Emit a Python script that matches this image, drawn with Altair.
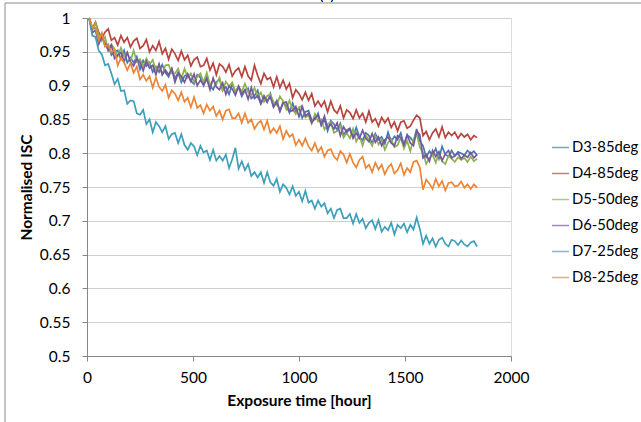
import altair as alt
import pandas as pd

hours = list(range(10, 1841, 15))

d3 = [1.000, 0.984, 0.985, 0.966, 0.976, 0.958, 0.961, 0.945, 0.950, 0.952,
      0.939, 0.952, 0.934, 0.941, 0.934, 0.943, 0.924, 0.937, 0.929, 0.934,
      0.920, 0.928, 0.920, 0.931, 0.919, 0.913, 0.925, 0.911, 0.919, 0.905,
      0.914, 0.917, 0.907, 0.902, 0.916, 0.912, 0.900, 0.914, 0.900, 0.894,
      0.905, 0.910, 0.893, 0.898, 0.887, 0.902, 0.891, 0.898, 0.884, 0.893,
      0.896, 0.881, 0.885, 0.893, 0.874, 0.882, 0.875, 0.888, 0.869, 0.878,
      0.862, 0.876, 0.870, 0.860, 0.874, 0.861, 0.867, 0.852, 0.861, 0.863,
      0.849, 0.850, 0.859, 0.841, 0.850, 0.833, 0.848, 0.843, 0.834, 0.844,
      0.827, 0.834, 0.837, 0.824, 0.838, 0.824, 0.819, 0.830, 0.826, 0.814,
      0.829, 0.820, 0.824, 0.814, 0.831, 0.817, 0.825, 0.820, 0.830, 0.812,
      0.827, 0.823, 0.817, 0.836, 0.818, 0.811, 0.794, 0.803, 0.797, 0.807,
      0.792, 0.810, 0.798, 0.795, 0.804, 0.796, 0.802, 0.800, 0.797, 0.804,
      0.799, 0.803, 0.797]

d4 = [1.000, 0.984, 0.994, 0.979, 0.970, 0.979, 0.984, 0.967, 0.971, 0.960,
      0.974, 0.964, 0.971, 0.957, 0.966, 0.970, 0.955, 0.959, 0.968, 0.950,
      0.959, 0.952, 0.965, 0.947, 0.955, 0.939, 0.954, 0.947, 0.937, 0.951,
      0.938, 0.945, 0.929, 0.938, 0.942, 0.928, 0.930, 0.940, 0.923, 0.933,
      0.916, 0.932, 0.928, 0.920, 0.931, 0.914, 0.922, 0.926, 0.913, 0.928,
      0.914, 0.908, 0.930, 0.915, 0.903, 0.918, 0.909, 0.912, 0.898, 0.913,
      0.897, 0.908, 0.895, 0.903, 0.882, 0.894, 0.888, 0.879, 0.890, 0.878,
      0.888, 0.870, 0.877, 0.869, 0.877, 0.861, 0.877, 0.864, 0.859, 0.870,
      0.852, 0.864, 0.860, 0.851, 0.864, 0.852, 0.859, 0.846, 0.862, 0.846,
      0.851, 0.840, 0.853, 0.845, 0.852, 0.838, 0.846, 0.833, 0.846, 0.848,
      0.837, 0.840, 0.849, 0.856, 0.852, 0.826, 0.832, 0.820, 0.830, 0.836,
      0.824, 0.839, 0.823, 0.831, 0.826, 0.831, 0.822, 0.829, 0.824, 0.828,
      0.820, 0.826, 0.823]

d5 = [1.000, 0.982, 0.993, 0.975, 0.966, 0.972, 0.952, 0.961, 0.954, 0.943,
      0.956, 0.943, 0.949, 0.936, 0.952, 0.935, 0.939, 0.928, 0.940, 0.931,
      0.938, 0.923, 0.931, 0.917, 0.930, 0.931, 0.918, 0.918, 0.925, 0.910,
      0.925, 0.912, 0.918, 0.905, 0.913, 0.918, 0.905, 0.919, 0.901, 0.908,
      0.902, 0.912, 0.893, 0.906, 0.899, 0.905, 0.890, 0.899, 0.891, 0.903,
      0.890, 0.885, 0.897, 0.883, 0.890, 0.876, 0.885, 0.887, 0.876, 0.871,
      0.884, 0.877, 0.865, 0.878, 0.865, 0.858, 0.868, 0.870, 0.853, 0.856,
      0.844, 0.858, 0.847, 0.850, 0.835, 0.843, 0.846, 0.830, 0.833, 0.841,
      0.823, 0.830, 0.822, 0.836, 0.817, 0.826, 0.811, 0.826, 0.820, 0.811,
      0.825, 0.813, 0.820, 0.805, 0.816, 0.821, 0.809, 0.812, 0.823, 0.807,
      0.818, 0.803, 0.821, 0.828, 0.809, 0.801, 0.784, 0.793, 0.798, 0.786,
      0.801, 0.788, 0.784, 0.796, 0.792, 0.787, 0.794, 0.790, 0.793, 0.787,
      0.795, 0.788, 0.792]

d6 = [1.000, 0.978, 0.982, 0.961, 0.972, 0.963, 0.952, 0.960, 0.940, 0.945,
      0.949, 0.935, 0.949, 0.935, 0.929, 0.939, 0.934, 0.922, 0.936, 0.926,
      0.930, 0.916, 0.932, 0.916, 0.923, 0.916, 0.925, 0.905, 0.919, 0.913,
      0.905, 0.917, 0.906, 0.917, 0.900, 0.908, 0.901, 0.910, 0.894, 0.911,
      0.898, 0.894, 0.904, 0.887, 0.899, 0.895, 0.886, 0.899, 0.887, 0.894,
      0.880, 0.897, 0.881, 0.885, 0.873, 0.885, 0.877, 0.883, 0.868, 0.876,
      0.862, 0.874, 0.876, 0.862, 0.863, 0.869, 0.854, 0.869, 0.855, 0.859,
      0.845, 0.852, 0.856, 0.842, 0.855, 0.837, 0.843, 0.836, 0.845, 0.826,
      0.839, 0.831, 0.836, 0.822, 0.830, 0.822, 0.834, 0.822, 0.817, 0.829,
      0.816, 0.824, 0.811, 0.820, 0.824, 0.815, 0.811, 0.826, 0.823, 0.812,
      0.827, 0.815, 0.811, 0.833, 0.827, 0.793, 0.798, 0.788, 0.804, 0.795,
      0.802, 0.789, 0.799, 0.804, 0.793, 0.796, 0.800, 0.792, 0.797, 0.794,
      0.801, 0.793, 0.798]

d7 = [1.000, 0.974, 0.972, 0.952, 0.946, 0.930, 0.932, 0.918, 0.902, 0.910,
      0.892, 0.893, 0.873, 0.878, 0.877, 0.859, 0.857, 0.864, 0.843, 0.850,
      0.831, 0.846, 0.840, 0.831, 0.840, 0.821, 0.828, 0.830, 0.815, 0.828,
      0.812, 0.805, 0.815, 0.810, 0.797, 0.811, 0.801, 0.804, 0.790, 0.805,
      0.789, 0.796, 0.789, 0.798, 0.778, 0.791, 0.808, 0.777, 0.788, 0.775,
      0.784, 0.766, 0.772, 0.764, 0.772, 0.756, 0.772, 0.757, 0.752, 0.762,
      0.743, 0.754, 0.749, 0.739, 0.751, 0.737, 0.743, 0.729, 0.744, 0.727,
      0.730, 0.718, 0.730, 0.721, 0.726, 0.711, 0.718, 0.704, 0.716, 0.718,
      0.704, 0.704, 0.710, 0.696, 0.710, 0.697, 0.703, 0.689, 0.697, 0.701,
      0.688, 0.701, 0.684, 0.691, 0.686, 0.697, 0.680, 0.694, 0.689, 0.696,
      0.683, 0.694, 0.687, 0.705, 0.688, 0.666, 0.678, 0.666, 0.674, 0.662,
      0.672, 0.675, 0.666, 0.662, 0.672, 0.670, 0.664, 0.671, 0.665, 0.662,
      0.668, 0.670, 0.662]

d8 = [1.000, 0.987, 0.985, 0.967, 0.978, 0.958, 0.960, 0.949, 0.953, 0.930,
      0.941, 0.934, 0.923, 0.933, 0.919, 0.928, 0.909, 0.916, 0.907, 0.914,
      0.897, 0.912, 0.898, 0.892, 0.901, 0.882, 0.893, 0.888, 0.878, 0.890,
      0.876, 0.882, 0.868, 0.883, 0.867, 0.871, 0.859, 0.872, 0.863, 0.869,
      0.855, 0.863, 0.850, 0.863, 0.865, 0.852, 0.852, 0.859, 0.845, 0.859,
      0.845, 0.850, 0.836, 0.844, 0.848, 0.835, 0.848, 0.830, 0.837, 0.830,
      0.840, 0.821, 0.833, 0.824, 0.828, 0.812, 0.820, 0.811, 0.822, 0.810,
      0.804, 0.815, 0.802, 0.809, 0.795, 0.804, 0.806, 0.795, 0.790, 0.803,
      0.798, 0.786, 0.799, 0.786, 0.779, 0.790, 0.795, 0.778, 0.783, 0.772,
      0.786, 0.776, 0.783, 0.769, 0.779, 0.784, 0.770, 0.775, 0.785, 0.768,
      0.778, 0.772, 0.787, 0.789, 0.779, 0.746, 0.761, 0.755, 0.747, 0.762,
      0.751, 0.759, 0.745, 0.756, 0.757, 0.751, 0.752, 0.758, 0.749, 0.754,
      0.747, 0.754, 0.749]

names = ["D3-85deg", "D4-85deg", "D5-50deg", "D6-50deg", "D7-25deg", "D8-25deg"]
colors = ["#4778B5", "#B8443F", "#8FB14F", "#76599C", "#3E9FBB", "#EC8535"]
x_ticks = [0, 500, 1000, 1500, 2000]
y_ticks = [0.5, 0.55, 0.6, 0.65, 0.7, 0.75, 0.8, 0.85, 0.9, 0.95, 1.0]

series = [d3, d4, d5, d6, d7, d8]
rows = []
for name, vals in zip(names, series):
    for t, v in zip(hours, vals):
        rows.append({"t": t, "v": v, "s": name})
df = pd.DataFrame(rows)

FONT = "Lato"
AXIS_GRAY = "#868686"

lines = alt.Chart(df).mark_line(strokeWidth=1.7).encode(
    x=alt.X("t:Q",
            scale=alt.Scale(domain=[0, 2000], nice=False, zero=False),
            axis=alt.Axis(values=x_ticks, format="d", title="Exposure time [hour]", grid=False,
                          domainColor=AXIS_GRAY, tickColor=AXIS_GRAY, tickSize=5,
                          labelFont=FONT, labelFontSize=15.5, labelColor="#000000",
                          labelPadding=9, titleFont=FONT, titleFontSize=15.5,
                          titleFontWeight="bold", titleColor="#000000", titlePadding=8,
                          labelFlush=False)),
    y=alt.Y("v:Q",
            scale=alt.Scale(domain=[0.5, 1.0], nice=False, zero=False),
            axis=alt.Axis(values=y_ticks, format=".2~f", title="Normalised ISC",
                          grid=True, gridColor="#CFCFCF", gridWidth=1,
                          domainColor=AXIS_GRAY, tickColor=AXIS_GRAY, tickSize=5,
                          labelFont=FONT, labelFontSize=15.5, labelColor="#000000",
                          labelPadding=12, titleFont=FONT, titleFontSize=15.5,
                          titleFontWeight="bold", titleColor="#000000", titlePadding=5,
                          labelFlush=False)),
    color=alt.Color("s:N",
                    scale=alt.Scale(domain=names, range=colors),
                    legend=alt.Legend(title=None, orient="none", legendX=464, legendY=120,
                                      symbolType="stroke", symbolSize=289,
                                      symbolStrokeWidth=1.5, symbolOpacity=0.7,
                                      labelFont=FONT, labelFontSize=14.8,
                                      labelColor="#000000", labelOffset=2,
                                      rowPadding=9, padding=0)),
)

one = pd.DataFrame({"label": ["(a)"]})
frame_left = alt.Chart(one).mark_rule(color="#8C8C8C", strokeWidth=1).encode(
    x=alt.value(-82), y=alt.value(-15), y2=alt.value(404))
frame_top = alt.Chart(one).mark_rule(color="#8C8C8C", strokeWidth=1).encode(
    y=alt.value(-15), x=alt.value(-82), x2=alt.value(554))
title_a = alt.Chart(one).mark_text(font=FONT, fontSize=15.5, baseline="alphabetic",
                                   align="center", color="#000000").encode(
    text="label:N", x=alt.value(240), y=alt.value(-18))

chart = alt.layer(lines, frame_left, frame_top, title_a).properties(
    width=424, height=338,
    padding={"left": 87, "top": 18, "right": 130, "bottom": 66},
    autosize=alt.AutoSizeParams(type="none"),
).configure_view(strokeWidth=0).configure(background="#FFFFFF")

chart.save("out.html", embed_options={"renderer": "svg", "actions": False})
